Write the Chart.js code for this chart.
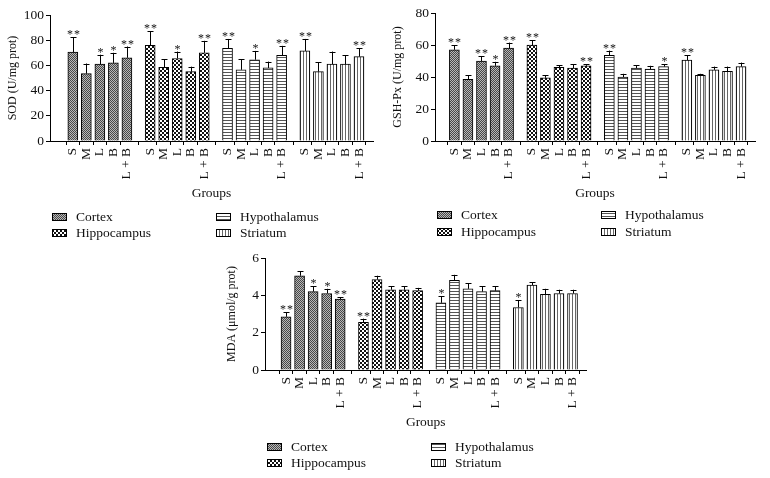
<!DOCTYPE html>
<html>
<head>
<meta charset="utf-8">
<script src="https://cdn.jsdelivr.net/npm/chart.js@4.4.0/dist/chart.umd.min.js"></script>
<style>
  body { margin: 0; background: #fff; }
  #wrap { position: relative; width: 770px; height: 478px; }
  canvas { position: absolute; }
</style>
</head>
<body>
<div id="wrap">
  <canvas id="sod" width="385" height="245" style="left:0;top:0"></canvas>
  <canvas id="gsh" width="385" height="245" style="left:385px;top:0"></canvas>
  <canvas id="mda" width="400" height="238" style="left:200px;top:240px"></canvas>
</div>
<script>
const regions = ['Cortex', 'Hippocampus', 'Hypothalamus', 'Striatum'];
const treatments = ['S', 'M', 'L', 'B', 'L + B'];

// SOD (U/mg prot): mean, error, significance
const sodCortex = [70.5, 53.5, 61, 62, 66];
const sodHippocampus = [76, 58.5, 65.5, 55, 70];
const sodHypothalamus = [73.5, 56.5, 64.5, 58, 68];
const sodStriatum = [71.5, 55, 61, 61, 67];
const sodErrCortex = [12, 8, 7.5, 8, 9];
const sodErrHippocampus = [11, 6.5, 5.5, 4, 9.5];
const sodErrHypothalamus = [7.5, 8.5, 7, 5, 7.5];
const sodErrStriatum = [9.5, 7.5, 10, 7, 6.5];
const sodStars = [['**', '', '*', '*', '**'], ['**', '', '*', '', '**'], ['**', '', '*', '', '**'], ['**', '', '', '', '**']];

// GSH-Px (U/mg prot)
const gshCortex = [57, 38.5, 50, 47, 58];
const gshHippocampus = [60, 39.5, 46, 45.5, 47];
const gshHypothalamus = [53.5, 40, 45.5, 45, 46.5];
const gshStriatum = [50.5, 41, 44.5, 43.5, 46.5];
const gshErrCortex = [3, 2.5, 3, 2.5, 3.5];
const gshErrHippocampus = [3, 1.5, 1.5, 2.5, 1];
const gshErrHypothalamus = [3, 2, 2, 2, 1.5];
const gshErrStriatum = [3, 1, 2, 3, 2.5];
const gshStars = [['**', '', '**', '*', '**'], ['**', '', '', '', '**'], ['**', '', '', '', '*'], ['**', '', '', '', '']];

// MDA (umol/g prot)
const mdaCortex = [2.85, 5.05, 4.2, 4.1, 3.8];
const mdaHippocampus = [2.55, 4.85, 4.3, 4.3, 4.25];
const mdaHypothalamus = [3.6, 4.8, 4.35, 4.2, 4.25];
const mdaStriatum = [3.35, 4.55, 4.05, 4.1, 4.1];
const mdaErrCortex = [0.25, 0.25, 0.3, 0.25, 0.1];
const mdaErrHippocampus = [0.2, 0.2, 0.2, 0.2, 0.15];
const mdaErrHypothalamus = [0.35, 0.3, 0.3, 0.3, 0.25];
const mdaErrStriatum = [0.4, 0.15, 0.3, 0.2, 0.2];
const mdaStars = [['**', '', '*', '*', '**'], ['**', '', '', '', ''], ['*', '', '', '', ''], ['*', '', '', '', '']];

const SERIF = "'Liberation Serif', 'DejaVu Serif', serif";
Chart.defaults.font.family = SERIF;
Chart.defaults.color = '#111';

// spacing between region groups, in bar slots
const GROUP_STRIDE = 5.72;

function makePattern(w, h, draw) {
  const c = document.createElement('canvas');
  c.width = w; c.height = h;
  const g = c.getContext('2d');
  draw(g);
  return g.createPattern(c, 'repeat');
}

const fills = [
  makePattern(2, 2, g => {
    g.fillStyle = '#b8b8b8'; g.fillRect(0, 0, 2, 2);
    g.fillStyle = '#484848'; g.fillRect(0, 0, 1, 1); g.fillRect(1, 1, 1, 1);
  }),
  makePattern(4, 4, g => {
    g.fillStyle = '#111'; g.fillRect(0, 0, 4, 4);
    g.fillStyle = '#fff'; g.fillRect(0, 0, 2, 2); g.fillRect(2, 2, 2, 2);
  }),
  makePattern(1, 3, g => {
    g.fillStyle = '#fff'; g.fillRect(0, 0, 1, 3);
    g.fillStyle = '#555'; g.fillRect(0, 0, 1, 1);
  }),
  makePattern(3, 1, g => {
    g.fillStyle = '#fff'; g.fillRect(0, 0, 3, 1);
    g.fillStyle = '#666'; g.fillRect(0, 0, 1, 1);
  })
];

// error bars + significance marks
const errorBars = {
  id: 'errorBars',
  afterDatasetsDraw(chart) {
    const ctx = chart.ctx;
    const y = chart.scales.y;
    ctx.save();
    ctx.strokeStyle = '#000';
    ctx.lineWidth = 1;
    ctx.fillStyle = '#111';
    ctx.font = '12px ' + SERIF;
    ctx.textAlign = 'center';
    ctx.textBaseline = 'alphabetic';
    chart.data.datasets.forEach((ds, d) => {
      chart.getDatasetMeta(d).data.forEach((bar, i) => {
        const v = ds.data[i].y;
        const top = y.getPixelForValue(v);
        const cap = y.getPixelForValue(v + ds.errors[i]);
        const x = Math.round(bar.x) + 0.5;
        ctx.beginPath();
        ctx.moveTo(x, top);
        ctx.lineTo(x, cap);
        ctx.moveTo(x - 3, Math.round(cap) + 0.5);
        ctx.lineTo(x + 3, Math.round(cap) + 0.5);
        ctx.stroke();
        const n = ds.stars[i].length;
        for (let k = 0; k < n; k++) {
          ctx.fillText('*', x + (k - (n - 1) / 2) * 7, cap + 1);
        }
      });
    });
    ctx.restore();
  }
};

// two-column legend with pattern swatches
const patternLegend = {
  id: 'patternLegend',
  afterDraw(chart, args, opts) {
    const ctx = chart.ctx;
    const left = chart.chartArea.left;
    const cols = [left + 2, left + 166];
    chart.data.datasets.forEach((ds, i) => {
      const x = cols[Math.floor(i / 2)];
      const yy = opts.rows[i % 2];
      ctx.save();
      ctx.fillStyle = ds.backgroundColor;
      ctx.fillRect(x, yy - 4, 15, 8);
      ctx.strokeStyle = '#000';
      ctx.lineWidth = 1;
      ctx.strokeRect(x + 0.5, yy - 3.5, 14, 7);
      ctx.fillStyle = '#111';
      ctx.font = '13.5px ' + SERIF;
      ctx.textBaseline = 'middle';
      ctx.fillText(ds.label, x + 24, yy);
      ctx.restore();
    });
  }
};

function makeChart(id, cfg) {
  const positions = [];
  const datasets = regions.map((name, g) => {
    const pts = cfg.values[g].map((v, i) => {
      positions.push(g * GROUP_STRIDE + i);
      return { x: g * GROUP_STRIDE + i, y: v };
    });
    return {
      label: name,
      data: pts,
      errors: cfg.errors[g],
      stars: cfg.stars[g],
      backgroundColor: fills[g],
      borderColor: '#000',
      borderWidth: 1,
      barThickness: 10,
      grouped: false
    };
  });

  return new Chart(document.getElementById(id), {
    type: 'bar',
    data: { datasets },
    options: {
      responsive: false,
      animation: false,
      layout: { padding: cfg.padding },
      plugins: {
        legend: { display: false },
        tooltip: { enabled: false },
        patternLegend: { rows: cfg.legendRows }
      },
      scales: {
        x: {
          type: 'linear',
          min: cfg.xMin,
          max: 21.6,
          afterBuildTicks: s => { s.ticks = positions.map(v => ({ value: v })); },
          afterFit: s => { s.height = cfg.xHeight; },
          ticks: {
            autoSkip: false,
            minRotation: 90,
            maxRotation: 90,
            padding: 3,
            font: { size: 13.5 },
            callback: (v, i) => treatments[i % treatments.length]
          },
          grid: { drawOnChartArea: false, tickLength: 4, color: '#000' },
          border: { color: '#000' },
          title: { display: true, text: 'Groups', font: { size: 13.5 }, padding: { top: 4, bottom: 0 } }
        },
        y: {
          min: 0,
          max: cfg.yMax,
          afterFit: s => { s.width = cfg.axisWidth; },
          ticks: { stepSize: cfg.yStep, padding: 2, font: { size: 13.5 } },
          grid: { drawOnChartArea: false, tickLength: 4, color: '#000' },
          border: { color: '#000' },
          title: { display: true, text: cfg.yTitle, font: { size: 12 }, padding: { top: cfg.yTitlePad, bottom: 0 } }
        }
      }
    },
    plugins: [errorBars, patternLegend]
  });
}

makeChart('sod', {
  values: [sodCortex, sodHippocampus, sodHypothalamus, sodStriatum],
  errors: [sodErrCortex, sodErrHippocampus, sodErrHypothalamus, sodErrStriatum],
  stars: sodStars,
  yTitle: 'SOD (U/mg prot)', yMax: 100, yStep: 20,
  axisWidth: 50, yTitlePad: 6, xMin: -1.09, xHeight: 60.1,
  padding: { left: 0, top: 15, right: 12, bottom: 43.9 },
  legendRows: [217, 233]
});

makeChart('gsh', {
  values: [gshCortex, gshHippocampus, gshHypothalamus, gshStriatum],
  errors: [gshErrCortex, gshErrHippocampus, gshErrHypothalamus, gshErrStriatum],
  stars: gshStars,
  yTitle: 'GSH-Px (U/mg prot)', yMax: 80, yStep: 20,
  axisWidth: 50, yTitlePad: 6, xMin: -0.84, xHeight: 60.6,
  padding: { left: 0, top: 13, right: 15, bottom: 43.4 },
  legendRows: [215, 232]
});

makeChart('mda', {
  values: [mdaCortex, mdaHippocampus, mdaHypothalamus, mdaStriatum],
  errors: [mdaErrCortex, mdaErrHippocampus, mdaErrHypothalamus, mdaErrStriatum],
  stars: mdaStars,
  yTitle: 'MDA (μmol/g prot)', yMax: 6, yStep: 2,
  axisWidth: 65, yTitlePad: 25, xMin: -0.96, xHeight: 60.6,
  padding: { left: 0, top: 18, right: 13.5, bottom: 47.4 },
  legendRows: [207, 223]
});
</script>
</body>
</html>
